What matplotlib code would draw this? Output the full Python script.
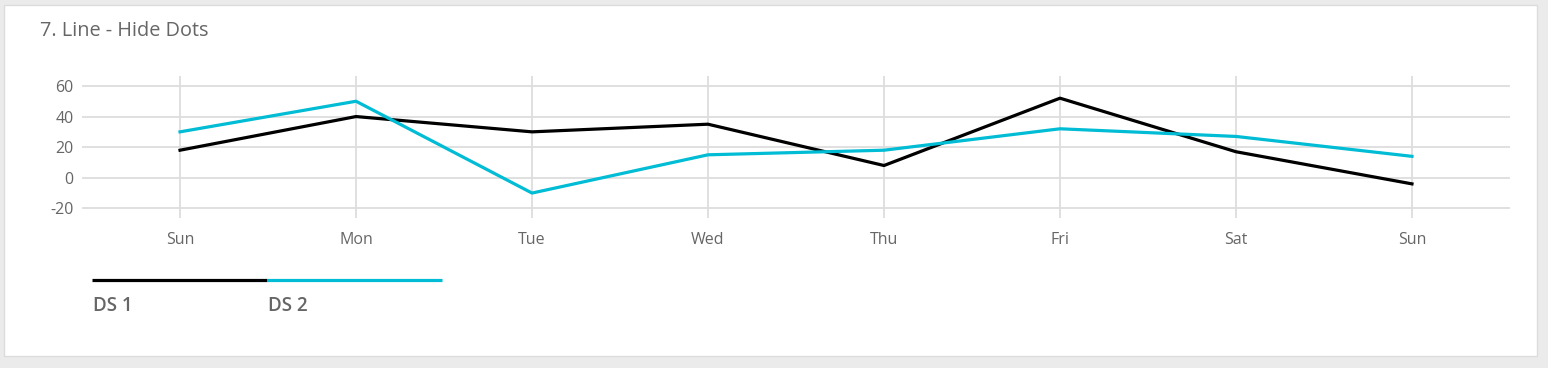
import matplotlib.pyplot as plt
from matplotlib.lines import Line2D
from matplotlib.patches import Rectangle

days = ["Sun", "Mon", "Tue", "Wed", "Thu", "Fri", "Sat", "Sun"]
ds1 = [18, 40, 30, 35, 8, 52, 17, -4]
ds2 = [30, 50, -10, 15, 18, 32, 27, 14]
series_names = ["DS 1", "DS 2"]
series_colors = ["#000000", "#00bcd4"]

plt.rcParams['font.family'] = ['Open Sans', 'DejaVu Sans']
plt.rcParams['axes.unicode_minus'] = False
text_color = "#666666"

W, H = 1548, 368
fig = plt.figure(figsize=(W / 100, H / 100), dpi=100)
fig.patch.set_facecolor("#ebebeb")

# card background
card = Rectangle((4 / W, 1 - 356 / H), (1537 - 4) / W, (356 - 5) / H,
                 transform=fig.transFigure, facecolor="white",
                 edgecolor="#dcdcdc", linewidth=1, zorder=0)
fig.add_artist(card)

fig.text(40 / W, 1 - 31 / H, "7. Line - Hide Dots", fontsize=14.3,
         color=text_color, ha="left", va="center")

ax = fig.add_axes([82 / W, 1 - 218 / H, (1510 - 82) / W, (218 - 76) / H])
ax.set_facecolor("none")
x = list(range(len(days)))
for vals, name, col in zip([ds1, ds2], series_names, series_colors):
    ax.plot(x, vals, color=col, linewidth=2.3, label=name, zorder=3)

ax.set_xlim(-0.557, 7.557)
ax.set_ylim(-26.3, 66.5)
ax.set_yticks([-20, 0, 20, 40, 60])
ax.set_xticks(x)
ax.set_xticklabels(days)
ax.grid(True, color="#dddddd", linewidth=1.3)
ax.set_axisbelow(True)
for s in ax.spines.values():
    s.set_visible(False)
ax.tick_params(length=0, labelsize=11.5, labelcolor=text_color)
ax.tick_params(axis="y", pad=6)
ax.tick_params(axis="x", pad=10)

# legend drawn as bars with labels underneath
lx = 92
for name, col in zip(series_names, series_colors):
    fig.add_artist(Line2D([lx / W, (lx + 175) / W], [1 - 280 / H] * 2,
                          transform=fig.transFigure, color=col, linewidth=2.3,
                          solid_capstyle="butt"))
    fig.text((lx + 1) / W, 1 - 306 / H, name, fontsize=13.5, fontweight="semibold",
             color=text_color, ha="left", va="center")
    lx += 175

fig.savefig("out.png", dpi=100, facecolor=fig.get_facecolor())
